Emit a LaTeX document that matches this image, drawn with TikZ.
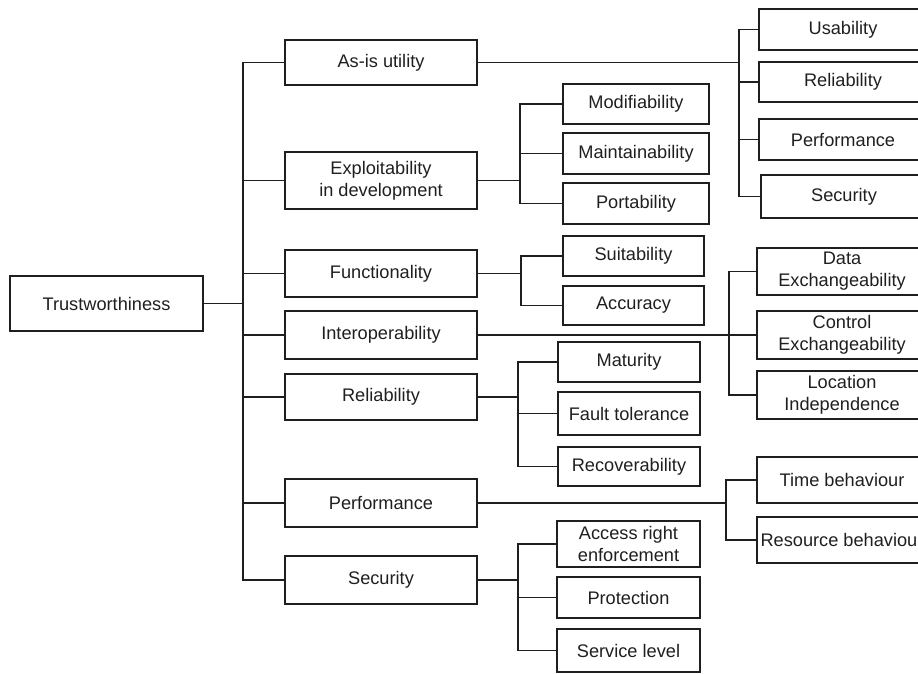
\documentclass[tikz,border=0pt]{standalone}
\usepackage{fontspec}
\setmainfont{Liberation Sans}
\definecolor{ink}{gray}{0.12}
\begin{document}
\begin{tikzpicture}[x=1pt,y=-1pt,
  box/.style={draw=ink, line width=1.1pt, rectangle, inner sep=0pt, align=center,
    text=ink, font=\fontsize{18.2}{22}\selectfont},
  conn/.style={draw=ink, line width=1.1pt}]
\useasboundingbox (0,0) rectangle (918,673);
\clip (0,0) rectangle (918,673);
% root
\node[box, minimum width=193pt, minimum height=55pt] (trust) at (106.5,303.5) {Trustworthiness};
% level 1
\node[box, minimum width=192pt, minimum height=45pt] (asis) at (381,62.5) {As-is utility};
\node[box, minimum width=192pt, minimum height=57pt] (expl) at (381,180.5) {Exploitability\\in development};
\node[box, minimum width=192pt, minimum height=47pt] (func) at (381,273.5) {Functionality};
\node[box, minimum width=192pt, minimum height=48pt] (inter) at (381,335) {Interoperability};
\node[box, minimum width=192pt, minimum height=46pt] (rel) at (381,397) {Reliability};
\node[box, minimum width=192pt, minimum height=48pt] (perf) at (381,503) {Performance};
\node[box, minimum width=192pt, minimum height=48pt] (sec) at (381,580) {Security};
% as-is children
\node[box, minimum width=168pt, minimum height=41pt] (usab) at (843,29.5) {Usability};
\node[box, minimum width=168pt, minimum height=40pt] (rel2) at (843,82) {Reliability};
\node[box, minimum width=168pt, minimum height=41pt] (perf2) at (843,139.5) {Performance};
\node[box, minimum width=166pt, minimum height=43pt] (sec2) at (844,196.5) {Security};
% exploitability children
\node[box, minimum width=146pt, minimum height=40pt] (modi) at (636,104) {Modifiability};
\node[box, minimum width=146pt, minimum height=41pt] (main) at (636,153.5) {Maintainability};
\node[box, minimum width=146pt, minimum height=41pt] (port) at (636,203.5) {Portability};
% functionality children
\node[box, minimum width=141pt, minimum height=40pt] (suit) at (633.5,256) {Suitability};
\node[box, minimum width=141pt, minimum height=39pt] (accu) at (633.5,305.5) {Accuracy};
% interoperability children
\node[box, minimum width=170pt, minimum height=47pt] (data) at (842,271.5) {Data\\Exchangeability};
\node[box, minimum width=170pt, minimum height=48pt] (ctrl) at (842,335) {Control\\Exchangeability};
\node[box, minimum width=170pt, minimum height=48pt] (loc) at (842,395) {Location\\Independence};
% reliability children
\node[box, minimum width=142pt, minimum height=40pt] (matu) at (629,362) {Maturity};
\node[box, minimum width=142pt, minimum height=43pt] (faul) at (629,413.5) {Fault tolerance};
\node[box, minimum width=142pt, minimum height=39pt] (reco) at (629,466.5) {Recoverability};
% performance children
\node[box, minimum width=170pt, minimum height=46pt] (time) at (842,480) {Time behaviour};
\node[box, minimum width=170pt, minimum height=46pt] (reso) at (842,540) {Resource behaviour};
% security children
\node[box, minimum width=143pt, minimum height=46pt] (acce) at (628.5,544) {Access right\\enforcement};
\node[box, minimum width=143pt, minimum height=41pt] (prot) at (628.5,597.5) {Protection};
\node[box, minimum width=143pt, minimum height=43pt] (serv) at (628.5,650.5) {Service level};
% junctions
\coordinate (jroot) at (243,303.5);
\coordinate (jasis) at (739,62.5);
\coordinate (jexpl) at (520,180.5);
\coordinate (jfunc) at (521,273.5);
\coordinate (jinter) at (729,335);
\coordinate (jrel) at (518,397);
\coordinate (jperf) at (726,503);
\coordinate (jsec) at (518,580);
% connectors
\draw[conn] (trust.east) -- (jroot);
\foreach \c in {asis,expl,func,inter,rel,perf,sec} \draw[conn] (\c.west) -| (jroot);
\draw[conn] (asis.east) -- (jasis);
\foreach \c in {usab,rel2,perf2,sec2} \draw[conn] (\c.west) -| (jasis);
\draw[conn] (expl.east) -- (jexpl);
\foreach \c in {modi,main,port} \draw[conn] (\c.west) -| (jexpl);
\draw[conn] (func.east) -- (jfunc);
\foreach \c in {suit,accu} \draw[conn] (\c.west) -| (jfunc);
\draw[conn] (inter.east) -- (jinter);
\foreach \c in {data,ctrl,loc} \draw[conn] (\c.west) -| (jinter);
\draw[conn] (rel.east) -- (jrel);
\foreach \c in {matu,faul,reco} \draw[conn] (\c.west) -| (jrel);
\draw[conn] (perf.east) -- (jperf);
\foreach \c in {time,reso} \draw[conn] (\c.west) -| (jperf);
\draw[conn] (sec.east) -- (jsec);
\foreach \c in {acce,prot,serv} \draw[conn] (\c.west) -| (jsec);
\end{tikzpicture}
\end{document}
